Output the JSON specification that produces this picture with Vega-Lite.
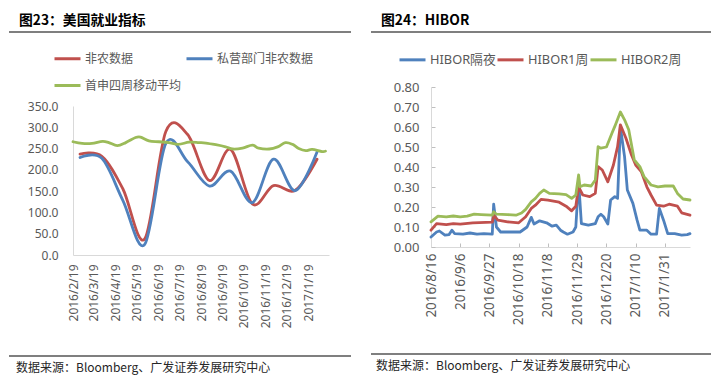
{
  "$schema": "https://vega.github.io/schema/vega-lite/v6.json",
  "background": "white",
  "padding": {"left": 8, "top": 14, "right": 2, "bottom": 2},
  "config": {
    "view": {"stroke": null},
    "font": "Noto Sans, Noto Sans CJK SC",
    "axis": {"grid": false, "domainColor": "#D9D9D9", "domainWidth": 1, "labelColor": "#595959", "labelFont": "Noto Sans, Noto Sans CJK SC", "tickColor": "#BFBFBF", "title": null},
    "line": {"strokeJoin": "round", "strokeCap": "round"},
    "legend": {"title": null, "symbolType": "stroke", "symbolSize": 676, "symbolStrokeWidth": 3, "labelColor": "#595959", "labelFont": "Noto Sans, Noto Sans CJK SC", "labelOffset": 3, "padding": 0}
  },
  "resolve": {"scale": {"color": "independent", "x": "independent", "y": "independent"}, "legend": {"color": "independent"}},
  "spacing": 18,
  "hconcat": [
    {
      "spacing": 11,
      "resolve": {"scale": {"x": "independent", "y": "independent", "color": "independent"}, "legend": {"color": "independent"}},
      "vconcat": [
        {
          "width": 256, "height": 1,
          "title": {"text": "图23：美国就业指标", "anchor": "start", "frame": "group", "dx": -54, "offset": 3, "fontSize": 13.8, "font": "Noto Sans CJK SC", "fontWeight": "bold", "color": "#000000"},
          "data": {"values": [{"a": 0}]},
          "mark": {"type": "rule", "color": "#000000", "strokeWidth": 1.2},
          "encoding": {
            "x": {"datum": -0.25, "type": "quantitative", "scale": {"domain": [0, 1]}, "axis": null},
            "x2": {"datum": 1.086},
            "y": {"datum": 0, "type": "quantitative", "scale": {"domain": [0, 1]}, "axis": null}
          }
        },
        {
          "width": 256, "height": 149,
          "data": {"values": [
            {"d": "2016-02-29", "s": "非农数据", "v": 237},
            {"d": "2016-03-31", "s": "非农数据", "v": 232},
            {"d": "2016-04-30", "s": "非农数据", "v": 155},
            {"d": "2016-05-31", "s": "非农数据", "v": 38},
            {"d": "2016-06-30", "s": "非农数据", "v": 290},
            {"d": "2016-07-31", "s": "非农数据", "v": 283},
            {"d": "2016-08-31", "s": "非农数据", "v": 175},
            {"d": "2016-09-30", "s": "非农数据", "v": 248},
            {"d": "2016-10-31", "s": "非农数据", "v": 120},
            {"d": "2016-11-30", "s": "非农数据", "v": 163},
            {"d": "2016-12-31", "s": "非农数据", "v": 152},
            {"d": "2017-01-31", "s": "非农数据", "v": 225},
            {"d": "2016-02-29", "s": "私营部门非农数据", "v": 229},
            {"d": "2016-03-31", "s": "私营部门非农数据", "v": 227},
            {"d": "2016-04-30", "s": "私营部门非农数据", "v": 128},
            {"d": "2016-05-31", "s": "私营部门非农数据", "v": 25},
            {"d": "2016-06-30", "s": "私营部门非农数据", "v": 262},
            {"d": "2016-07-31", "s": "私营部门非农数据", "v": 219},
            {"d": "2016-08-31", "s": "私营部门非农数据", "v": 162},
            {"d": "2016-09-30", "s": "私营部门非农数据", "v": 197},
            {"d": "2016-10-31", "s": "私营部门非农数据", "v": 123},
            {"d": "2016-11-30", "s": "私营部门非农数据", "v": 225},
            {"d": "2016-12-31", "s": "私营部门非农数据", "v": 151},
            {"d": "2017-01-31", "s": "私营部门非农数据", "v": 242},
            {"d": "2016-02-19", "s": "首申四周移动平均", "v": 266},
            {"d": "2016-03-03", "s": "首申四周移动平均", "v": 262},
            {"d": "2016-03-17", "s": "首申四周移动平均", "v": 262},
            {"d": "2016-04-01", "s": "首申四周移动平均", "v": 267},
            {"d": "2016-04-10", "s": "首申四周移动平均", "v": 264},
            {"d": "2016-04-22", "s": "首申四周移动平均", "v": 257},
            {"d": "2016-05-04", "s": "首申四周移动平均", "v": 264},
            {"d": "2016-05-18", "s": "首申四周移动平均", "v": 276},
            {"d": "2016-05-25", "s": "首申四周移动平均", "v": 277},
            {"d": "2016-06-06", "s": "首申四周移动平均", "v": 268},
            {"d": "2016-06-20", "s": "首申四周移动平均", "v": 266},
            {"d": "2016-07-04", "s": "首申四周移动平均", "v": 264},
            {"d": "2016-07-18", "s": "首申四周移动平均", "v": 260},
            {"d": "2016-08-02", "s": "首申四周移动平均", "v": 265},
            {"d": "2016-08-16", "s": "首申四周移动平均", "v": 264},
            {"d": "2016-08-26", "s": "首申四周移动平均", "v": 263},
            {"d": "2016-09-09", "s": "首申四周移动平均", "v": 259},
            {"d": "2016-09-23", "s": "首申四周移动平均", "v": 254},
            {"d": "2016-10-03", "s": "首申四周移动平均", "v": 249},
            {"d": "2016-10-17", "s": "首申四周移动平均", "v": 251},
            {"d": "2016-10-31", "s": "首申四周移动平均", "v": 258},
            {"d": "2016-11-09", "s": "首申四周移动平均", "v": 251},
            {"d": "2016-11-24", "s": "首申四周移动平均", "v": 249},
            {"d": "2016-12-06", "s": "首申四周移动平均", "v": 254},
            {"d": "2016-12-17", "s": "首申四周移动平均", "v": 264},
            {"d": "2016-12-27", "s": "首申四周移动平均", "v": 260},
            {"d": "2017-01-05", "s": "首申四周移动平均", "v": 250},
            {"d": "2017-01-15", "s": "首申四周移动平均", "v": 245},
            {"d": "2017-01-24", "s": "首申四周移动平均", "v": 248},
            {"d": "2017-02-07", "s": "首申四周移动平均", "v": 243},
            {"d": "2017-02-12", "s": "首申四周移动平均", "v": 244}
          ]},
          "mark": {"type": "line", "interpolate": "cardinal", "strokeWidth": 2.8},
          "encoding": {
            "x": {"field": "d", "type": "temporal",
              "scale": {"type": "utc", "domain": [{"year": 2016, "month": 2, "date": 19, "utc": true}, {"year": 2017, "month": 2, "date": 17, "utc": true}]},
              "axis": {"values": [
                {"year": 2016, "month": 2, "date": 19, "utc": true},
                {"year": 2016, "month": 3, "date": 19, "utc": true},
                {"year": 2016, "month": 4, "date": 19, "utc": true},
                {"year": 2016, "month": 5, "date": 19, "utc": true},
                {"year": 2016, "month": 6, "date": 19, "utc": true},
                {"year": 2016, "month": 7, "date": 19, "utc": true},
                {"year": 2016, "month": 8, "date": 19, "utc": true},
                {"year": 2016, "month": 9, "date": 19, "utc": true},
                {"year": 2016, "month": 10, "date": 19, "utc": true},
                {"year": 2016, "month": 11, "date": 19, "utc": true},
                {"year": 2016, "month": 12, "date": 19, "utc": true},
                {"year": 2017, "month": 1, "date": 19, "utc": true}
              ], "format": "%Y/%-m/%-d", "labelAngle": 270, "labelFontSize": 12, "labelPadding": 9, "ticks": false, "labelOverlap": false, "labelFlush": false, "labelBound": false}},
            "y": {"field": "v", "type": "quantitative", "scale": {"domain": [0, 350]},
              "axis": {"values": [0, 50, 100, 150, 200, 250, 300, 350], "format": ".1f", "labelFontSize": 12, "labelPadding": 15, "ticks": false}},
            "color": {"field": "s", "type": "nominal",
              "scale": {"domain": ["非农数据", "私营部门非农数据", "首申四周移动平均"], "range": ["#C0504D", "#4F81BD", "#9BBB59"]},
              "legend": {"orient": "none", "direction": "horizontal", "legendX": -20, "legendY": -62, "columns": 2, "columnPadding": 3, "rowPadding": 6, "labelFontSize": 12}}
          }
        },
        {
          "width": 256, "height": 17,
          "title": {"text": "数据来源：Bloomberg、广发证券发展研究中心", "orient": "bottom", "anchor": "start", "frame": "group", "dx": -57, "offset": 6, "fontSize": 12, "font": "Noto Sans CJK SC", "fontWeight": "normal", "color": "#262626"},
          "data": {"values": [{"a": 0}]},
          "mark": {"type": "rule", "color": "#000000", "strokeWidth": 1.2},
          "encoding": {
            "x": {"datum": -0.25, "type": "quantitative", "scale": {"domain": [0, 1]}, "axis": null},
            "x2": {"datum": 1.086},
            "y": {"datum": 0, "type": "quantitative", "scale": {"domain": [0, 1]}, "axis": null}
          }
        }
      ]
    },
    {
      "spacing": 12,
      "resolve": {"scale": {"x": "independent", "y": "independent", "color": "independent"}, "legend": {"color": "independent"}},
      "vconcat": [
        {
          "width": 259, "height": 1,
          "title": {"text": "图24：HIBOR", "anchor": "start", "frame": "group", "dx": -50, "offset": 3, "fontSize": 13.8, "font": "Noto Sans CJK SC", "fontWeight": "bold", "color": "#000000"},
          "data": {"values": [{"a": 0}]},
          "mark": {"type": "rule", "color": "#000000", "strokeWidth": 1.2},
          "encoding": {
            "x": {"datum": -0.2317, "type": "quantitative", "scale": {"domain": [0, 1]}, "axis": null},
            "x2": {"datum": 1.0811},
            "y": {"datum": 0, "type": "quantitative", "scale": {"domain": [0, 1]}, "axis": null}
          }
        },
        {
          "width": 259, "height": 160,
          "data": {"values": [
            {"d": "2016-08-16", "s": "HIBOR隔夜", "v": 0.050},
            {"d": "2016-08-20", "s": "HIBOR隔夜", "v": 0.075},
            {"d": "2016-08-22", "s": "HIBOR隔夜", "v": 0.080},
            {"d": "2016-08-26", "s": "HIBOR隔夜", "v": 0.059},
            {"d": "2016-08-29", "s": "HIBOR隔夜", "v": 0.062},
            {"d": "2016-08-31", "s": "HIBOR隔夜", "v": 0.084},
            {"d": "2016-09-02", "s": "HIBOR隔夜", "v": 0.067},
            {"d": "2016-09-08", "s": "HIBOR隔夜", "v": 0.064},
            {"d": "2016-09-13", "s": "HIBOR隔夜", "v": 0.070},
            {"d": "2016-09-18", "s": "HIBOR隔夜", "v": 0.064},
            {"d": "2016-09-23", "s": "HIBOR隔夜", "v": 0.067},
            {"d": "2016-09-29", "s": "HIBOR隔夜", "v": 0.064},
            {"d": "2016-09-30", "s": "HIBOR隔夜", "v": 0.214},
            {"d": "2016-10-02", "s": "HIBOR隔夜", "v": 0.100},
            {"d": "2016-10-05", "s": "HIBOR隔夜", "v": 0.075},
            {"d": "2016-10-12", "s": "HIBOR隔夜", "v": 0.075},
            {"d": "2016-10-19", "s": "HIBOR隔夜", "v": 0.075},
            {"d": "2016-10-24", "s": "HIBOR隔夜", "v": 0.100},
            {"d": "2016-10-27", "s": "HIBOR隔夜", "v": 0.148},
            {"d": "2016-10-29", "s": "HIBOR隔夜", "v": 0.115},
            {"d": "2016-11-02", "s": "HIBOR隔夜", "v": 0.131},
            {"d": "2016-11-07", "s": "HIBOR隔夜", "v": 0.121},
            {"d": "2016-11-11", "s": "HIBOR隔夜", "v": 0.104},
            {"d": "2016-11-14", "s": "HIBOR隔夜", "v": 0.109},
            {"d": "2016-11-17", "s": "HIBOR隔夜", "v": 0.084},
            {"d": "2016-11-19", "s": "HIBOR隔夜", "v": 0.075},
            {"d": "2016-11-22", "s": "HIBOR隔夜", "v": 0.064},
            {"d": "2016-11-26", "s": "HIBOR隔夜", "v": 0.075},
            {"d": "2016-11-28", "s": "HIBOR隔夜", "v": 0.100},
            {"d": "2016-11-30", "s": "HIBOR隔夜", "v": 0.330},
            {"d": "2016-12-02", "s": "HIBOR隔夜", "v": 0.117},
            {"d": "2016-12-07", "s": "HIBOR隔夜", "v": 0.109},
            {"d": "2016-12-12", "s": "HIBOR隔夜", "v": 0.117},
            {"d": "2016-12-14", "s": "HIBOR隔夜", "v": 0.151},
            {"d": "2016-12-16", "s": "HIBOR隔夜", "v": 0.164},
            {"d": "2016-12-18", "s": "HIBOR隔夜", "v": 0.151},
            {"d": "2016-12-21", "s": "HIBOR隔夜", "v": 0.115},
            {"d": "2016-12-23", "s": "HIBOR隔夜", "v": 0.235},
            {"d": "2016-12-26", "s": "HIBOR隔夜", "v": 0.252},
            {"d": "2016-12-28", "s": "HIBOR隔夜", "v": 0.243},
            {"d": "2016-12-30", "s": "HIBOR隔夜", "v": 0.600},
            {"d": "2017-01-02", "s": "HIBOR隔夜", "v": 0.452},
            {"d": "2017-01-04", "s": "HIBOR隔夜", "v": 0.285},
            {"d": "2017-01-08", "s": "HIBOR隔夜", "v": 0.218},
            {"d": "2017-01-11", "s": "HIBOR隔夜", "v": 0.134},
            {"d": "2017-01-13", "s": "HIBOR隔夜", "v": 0.084},
            {"d": "2017-01-18", "s": "HIBOR隔夜", "v": 0.084},
            {"d": "2017-01-21", "s": "HIBOR隔夜", "v": 0.064},
            {"d": "2017-01-25", "s": "HIBOR隔夜", "v": 0.064},
            {"d": "2017-01-27", "s": "HIBOR隔夜", "v": 0.193},
            {"d": "2017-01-30", "s": "HIBOR隔夜", "v": 0.134},
            {"d": "2017-02-02", "s": "HIBOR隔夜", "v": 0.067},
            {"d": "2017-02-07", "s": "HIBOR隔夜", "v": 0.067},
            {"d": "2017-02-12", "s": "HIBOR隔夜", "v": 0.059},
            {"d": "2017-02-16", "s": "HIBOR隔夜", "v": 0.062},
            {"d": "2017-02-18", "s": "HIBOR隔夜", "v": 0.067},
            {"d": "2016-08-16", "s": "HIBOR1周", "v": 0.084},
            {"d": "2016-08-20", "s": "HIBOR1周", "v": 0.117},
            {"d": "2016-08-27", "s": "HIBOR1周", "v": 0.112},
            {"d": "2016-09-01", "s": "HIBOR1周", "v": 0.117},
            {"d": "2016-09-06", "s": "HIBOR1周", "v": 0.114},
            {"d": "2016-09-15", "s": "HIBOR1周", "v": 0.121},
            {"d": "2016-09-29", "s": "HIBOR1周", "v": 0.124},
            {"d": "2016-09-30", "s": "HIBOR1周", "v": 0.159},
            {"d": "2016-10-03", "s": "HIBOR1周", "v": 0.134},
            {"d": "2016-10-10", "s": "HIBOR1周", "v": 0.126},
            {"d": "2016-10-18", "s": "HIBOR1周", "v": 0.121},
            {"d": "2016-10-23", "s": "HIBOR1周", "v": 0.151},
            {"d": "2016-10-27", "s": "HIBOR1周", "v": 0.193},
            {"d": "2016-10-30", "s": "HIBOR1周", "v": 0.209},
            {"d": "2016-11-03", "s": "HIBOR1周", "v": 0.238},
            {"d": "2016-11-08", "s": "HIBOR1周", "v": 0.234},
            {"d": "2016-11-16", "s": "HIBOR1周", "v": 0.224},
            {"d": "2016-11-21", "s": "HIBOR1周", "v": 0.204},
            {"d": "2016-11-25", "s": "HIBOR1周", "v": 0.181},
            {"d": "2016-11-28", "s": "HIBOR1周", "v": 0.204},
            {"d": "2016-11-30", "s": "HIBOR1周", "v": 0.301},
            {"d": "2016-12-03", "s": "HIBOR1周", "v": 0.260},
            {"d": "2016-12-08", "s": "HIBOR1周", "v": 0.252},
            {"d": "2016-12-12", "s": "HIBOR1周", "v": 0.268},
            {"d": "2016-12-14", "s": "HIBOR1周", "v": 0.402},
            {"d": "2016-12-17", "s": "HIBOR1周", "v": 0.385},
            {"d": "2016-12-21", "s": "HIBOR1周", "v": 0.326},
            {"d": "2016-12-25", "s": "HIBOR1周", "v": 0.410},
            {"d": "2016-12-28", "s": "HIBOR1周", "v": 0.502},
            {"d": "2016-12-30", "s": "HIBOR1周", "v": 0.611},
            {"d": "2017-01-03", "s": "HIBOR1周", "v": 0.544},
            {"d": "2017-01-07", "s": "HIBOR1周", "v": 0.460},
            {"d": "2017-01-10", "s": "HIBOR1周", "v": 0.410},
            {"d": "2017-01-14", "s": "HIBOR1周", "v": 0.377},
            {"d": "2017-01-18", "s": "HIBOR1周", "v": 0.301},
            {"d": "2017-01-21", "s": "HIBOR1周", "v": 0.260},
            {"d": "2017-01-25", "s": "HIBOR1周", "v": 0.209},
            {"d": "2017-01-30", "s": "HIBOR1周", "v": 0.204},
            {"d": "2017-02-03", "s": "HIBOR1周", "v": 0.214},
            {"d": "2017-02-09", "s": "HIBOR1周", "v": 0.204},
            {"d": "2017-02-12", "s": "HIBOR1周", "v": 0.171},
            {"d": "2017-02-18", "s": "HIBOR1周", "v": 0.159},
            {"d": "2016-08-16", "s": "HIBOR2周", "v": 0.126},
            {"d": "2016-08-21", "s": "HIBOR2周", "v": 0.154},
            {"d": "2016-08-27", "s": "HIBOR2周", "v": 0.151},
            {"d": "2016-09-01", "s": "HIBOR2周", "v": 0.155},
            {"d": "2016-09-06", "s": "HIBOR2周", "v": 0.151},
            {"d": "2016-09-11", "s": "HIBOR2周", "v": 0.154},
            {"d": "2016-09-16", "s": "HIBOR2周", "v": 0.164},
            {"d": "2016-09-21", "s": "HIBOR2周", "v": 0.162},
            {"d": "2016-09-29", "s": "HIBOR2周", "v": 0.159},
            {"d": "2016-09-30", "s": "HIBOR2周", "v": 0.176},
            {"d": "2016-10-02", "s": "HIBOR2周", "v": 0.164},
            {"d": "2016-10-10", "s": "HIBOR2周", "v": 0.162},
            {"d": "2016-10-16", "s": "HIBOR2周", "v": 0.159},
            {"d": "2016-10-20", "s": "HIBOR2周", "v": 0.170},
            {"d": "2016-10-23", "s": "HIBOR2周", "v": 0.188},
            {"d": "2016-10-27", "s": "HIBOR2周", "v": 0.226},
            {"d": "2016-10-30", "s": "HIBOR2周", "v": 0.243},
            {"d": "2016-11-02", "s": "HIBOR2周", "v": 0.268},
            {"d": "2016-11-05", "s": "HIBOR2周", "v": 0.285},
            {"d": "2016-11-09", "s": "HIBOR2周", "v": 0.268},
            {"d": "2016-11-16", "s": "HIBOR2周", "v": 0.266},
            {"d": "2016-11-21", "s": "HIBOR2周", "v": 0.262},
            {"d": "2016-11-25", "s": "HIBOR2周", "v": 0.243},
            {"d": "2016-11-28", "s": "HIBOR2周", "v": 0.260},
            {"d": "2016-11-30", "s": "HIBOR2周", "v": 0.360},
            {"d": "2016-12-01", "s": "HIBOR2周", "v": 0.301},
            {"d": "2016-12-04", "s": "HIBOR2周", "v": 0.310},
            {"d": "2016-12-09", "s": "HIBOR2周", "v": 0.305},
            {"d": "2016-12-12", "s": "HIBOR2周", "v": 0.335},
            {"d": "2016-12-14", "s": "HIBOR2周", "v": 0.502},
            {"d": "2016-12-16", "s": "HIBOR2周", "v": 0.494},
            {"d": "2016-12-20", "s": "HIBOR2周", "v": 0.500},
            {"d": "2016-12-24", "s": "HIBOR2周", "v": 0.570},
            {"d": "2016-12-26", "s": "HIBOR2周", "v": 0.603},
            {"d": "2016-12-30", "s": "HIBOR2周", "v": 0.675},
            {"d": "2017-01-02", "s": "HIBOR2周", "v": 0.636},
            {"d": "2017-01-05", "s": "HIBOR2周", "v": 0.586},
            {"d": "2017-01-09", "s": "HIBOR2周", "v": 0.435},
            {"d": "2017-01-13", "s": "HIBOR2周", "v": 0.402},
            {"d": "2017-01-16", "s": "HIBOR2周", "v": 0.352},
            {"d": "2017-01-21", "s": "HIBOR2周", "v": 0.310},
            {"d": "2017-01-26", "s": "HIBOR2周", "v": 0.301},
            {"d": "2017-01-31", "s": "HIBOR2周", "v": 0.305},
            {"d": "2017-02-06", "s": "HIBOR2周", "v": 0.305},
            {"d": "2017-02-09", "s": "HIBOR2周", "v": 0.268},
            {"d": "2017-02-13", "s": "HIBOR2周", "v": 0.240},
            {"d": "2017-02-18", "s": "HIBOR2周", "v": 0.235}
          ]},
          "mark": {"type": "line", "strokeWidth": 2.8},
          "encoding": {
            "x": {"field": "d", "type": "temporal",
              "scale": {"type": "utc", "domain": [{"year": 2016, "month": 8, "date": 16, "utc": true}, {"year": 2017, "month": 2, "date": 18, "utc": true}]},
              "axis": {"values": [
                {"year": 2016, "month": 8, "date": 16, "utc": true},
                {"year": 2016, "month": 9, "date": 6, "utc": true},
                {"year": 2016, "month": 9, "date": 27, "utc": true},
                {"year": 2016, "month": 10, "date": 18, "utc": true},
                {"year": 2016, "month": 11, "date": 8, "utc": true},
                {"year": 2016, "month": 11, "date": 29, "utc": true},
                {"year": 2016, "month": 12, "date": 20, "utc": true},
                {"year": 2017, "month": 1, "date": 10, "utc": true},
                {"year": 2017, "month": 1, "date": 31, "utc": true}
              ], "format": "%Y/%-m/%-d", "labelAngle": 270, "labelFontSize": 13.5, "labelPadding": 10, "tickSize": -4, "labelOverlap": false, "labelFlush": false, "labelBound": false}},
            "y": {"field": "v", "type": "quantitative", "scale": {"domain": [0, 0.8]},
              "axis": {"values": [0, 0.1, 0.2, 0.3, 0.4, 0.5, 0.6, 0.7, 0.8], "format": ".2f", "labelFontSize": 13, "labelPadding": 16, "tickSize": -4}},
            "color": {"field": "s", "type": "nominal",
              "scale": {"domain": ["HIBOR隔夜", "HIBOR1周", "HIBOR2周"], "range": ["#4F81BD", "#C0504D", "#9BBB59"]},
              "legend": {"orient": "none", "direction": "horizontal", "legendX": -33, "legendY": -42, "columns": 3, "columnPadding": 0, "labelFontSize": 12.8}}
          }
        },
        {
          "width": 259, "height": 17,
          "title": {"text": "数据来源：Bloomberg、广发证券发展研究中心", "orient": "bottom", "anchor": "start", "frame": "group", "dx": -55, "offset": 6, "fontSize": 12, "font": "Noto Sans CJK SC", "fontWeight": "normal", "color": "#262626"},
          "data": {"values": [{"a": 0}]},
          "mark": {"type": "rule", "color": "#000000", "strokeWidth": 1.2},
          "encoding": {
            "x": {"datum": -0.2317, "type": "quantitative", "scale": {"domain": [0, 1]}, "axis": null},
            "x2": {"datum": 1.0811},
            "y": {"datum": 0, "type": "quantitative", "scale": {"domain": [0, 1]}, "axis": null}
          }
        }
      ]
    }
  ]
}
